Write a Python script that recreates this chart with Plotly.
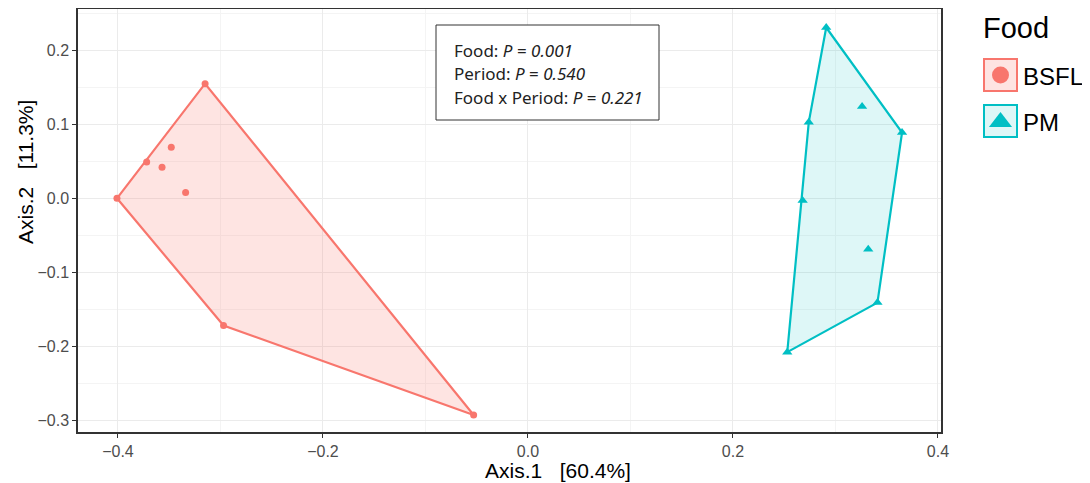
import plotly.graph_objects as go

# ---------------- data ----------------
groups = ["BSFL", "PM"]
bsfl_x = [-0.401, -0.315, -0.372, -0.357, -0.348, -0.334, -0.297, -0.053]
bsfl_y = [0.000, 0.155, 0.049, 0.042, 0.069, 0.008, -0.172, -0.293]
pm_x = [0.291, 0.326, 0.365, 0.274, 0.268, 0.332, 0.341, 0.253]
pm_y = [0.231, 0.124, 0.089, 0.103, -0.003, -0.069, -0.141, -0.208]
x_ticks = [-0.4, -0.2, 0.0, 0.2, 0.4]
y_ticks = [-0.3, -0.2, -0.1, 0.0, 0.1, 0.2]
terms = ["Food", "Period", "Food x Period"]
pvals = ["0.001", "0.540", "0.221"]
x_title = "Axis.1\u00a0\u00a0\u00a0[60.4%]"
y_title = "Axis.2\u00a0\u00a0\u00a0[11.3%]"
legend_title = "Food"

# ---------------- style / layout helpers ----------------
OFF = 8                      # page body margin of the browser
W, H = 1090 - OFF, 483 - OFF
RED, CYAN = "#F8766D", "#00BFC4"
RED_FILL, CYAN_FILL = "rgba(248,118,109,0.20)", "rgba(0,191,196,0.13)"
FONT = "Liberation Sans, Arial, sans-serif"


def px(x):   # screen x -> paper
    return (x - OFF) / W


def py(y):   # screen y -> paper
    return 1 - (y - OFF) / H


def hull(xs, ys):
    pts = sorted(set(zip(xs, ys)))

    def cross(o, a, b):
        return (a[0] - o[0]) * (b[1] - o[1]) - (a[1] - o[1]) * (b[0] - o[0])

    lower, upper = [], []
    for p in pts:
        while len(lower) >= 2 and cross(lower[-2], lower[-1], p) <= 0:
            lower.pop()
        lower.append(p)
    for p in reversed(pts):
        while len(upper) >= 2 and cross(upper[-2], upper[-1], p) <= 0:
            upper.pop()
        upper.append(p)
    h = lower[:-1] + upper[:-1]
    h.append(h[0])
    return [p[0] for p in h], [p[1] for p in h]


fig = go.Figure()
series = [
    (bsfl_x, bsfl_y, RED, RED_FILL, "circle", 7),
    (pm_x, pm_y, CYAN, CYAN_FILL, "triangle-up", 9),
]
for (xs, ys, col, fcol, sym, sz), name in zip(series, groups):
    hx, hy = hull(xs, ys)
    fig.add_trace(go.Scatter(x=hx, y=hy, mode="lines", fill="toself",
                             fillcolor=fcol, line=dict(color=col, width=2.2),
                             showlegend=False, hoverinfo="skip"))
    fig.add_trace(go.Scatter(x=xs, y=ys, mode="markers", name=name,
                             marker=dict(symbol=sym, size=sz, color=col),
                             showlegend=False))

# custom legend drawn on a screen-pixel helper axis
LX0 = 950
leg_y = [75, 121]
for name, (xs, ys, col, fcol, sym, sz), ly in zip(groups, series, leg_y):
    fig.add_shape(type="rect", xref="x2", yref="y2", x0=984, x1=1017,
                  y0=ly - 16, y1=ly + 16, line=dict(color=col, width=2),
                  fillcolor=fcol, layer="below")
    fig.add_trace(go.Scatter(x=[1000.5], y=[ly + (1 if sym != "circle" else 0)],
                             mode="markers", xaxis="x2", yaxis="y2",
                             marker=dict(symbol=sym, size=17 if sym == "circle" else 20, color=col),
                             showlegend=False, hoverinfo="skip"))
    fig.add_annotation(xref="x2", yref="y2", x=1021, y=ly + 1, text=name,
                       xanchor="left", yanchor="middle", showarrow=False,
                       font=dict(family=FONT, size=24, color="#000"))
fig.add_annotation(xref="x2", yref="y2", x=981, y=28, text=legend_title,
                   xanchor="left", yanchor="middle", showarrow=False,
                   font=dict(family=FONT, size=29, color="#000"))

# stats box
fig.add_shape(type="rect", xref="paper", yref="paper",
              x0=px(436), x1=px(659), y0=py(120), y1=py(25),
              line=dict(color="#333", width=1), fillcolor="white")
for i, (t, p) in enumerate(zip(terms, pvals)):
    fig.add_annotation(xref="paper", yref="paper", x=px(452), y=py(50 + 23.5 * i),
                       text=f"{t}: <i>P</i> = <i>{p}</i>", xanchor="left", yanchor="middle",
                       showarrow=False, font=dict(family="Noto Sans, sans-serif", size=17, color="#222"))

# axis titles
fig.add_annotation(xref="paper", yref="paper", x=px(558), y=py(470), text=x_title,
                   showarrow=False, xanchor="center", yanchor="middle",
                   font=dict(family=FONT, size=21, color="#000"))
fig.add_annotation(xref="paper", yref="paper", x=px(25), y=py(172), text=y_title,
                   showarrow=False, xanchor="center", yanchor="middle", textangle=-90,
                   font=dict(family=FONT, size=21, color="#000"))

axis_common = dict(showline=True, mirror=True, linecolor="#333", linewidth=1.5,
                   ticks="outside", ticklen=4, tickcolor="#333", tickwidth=1,
                   showgrid=True, gridcolor="#EBEBEB", gridwidth=1, zeroline=False,
                   automargin=False,
                   tickfont=dict(family=FONT, size=16, color="#4D4D4D"))

fig.update_layout(
    width=W, height=H, margin=dict(l=0, r=0, t=0, b=0, autoexpand=False),
    paper_bgcolor="white", plot_bgcolor="white",
    xaxis=dict(domain=[px(78), px(941)], range=[-0.439, 0.403], tickvals=x_ticks,
               ticktext=["\u22120.4", "\u22120.2", "0.0", "0.2", "0.4"],
               minor=dict(dtick=0.1, tick0=0, showgrid=True, gridcolor="#F4F4F4", ticks=""),
               **axis_common),
    yaxis=dict(domain=[py(432), py(9)], range=[-0.316, 0.256], tickvals=y_ticks,
               ticktext=["\u22120.3", "\u22120.2", "\u22120.1", "0.0", "0.1", "0.2"],
               minor=dict(dtick=0.05, tick0=0, showgrid=True, gridcolor="#F4F4F4", ticks=""),
               **axis_common),
    xaxis2=dict(domain=[px(LX0), 1], range=[LX0, 1090], visible=False, anchor="y2",
                automargin=False),
    yaxis2=dict(domain=[0, 1], range=[483, OFF], visible=False, anchor="x2",
                automargin=False),
    showlegend=False,
)

fig.write_html("out.html")
